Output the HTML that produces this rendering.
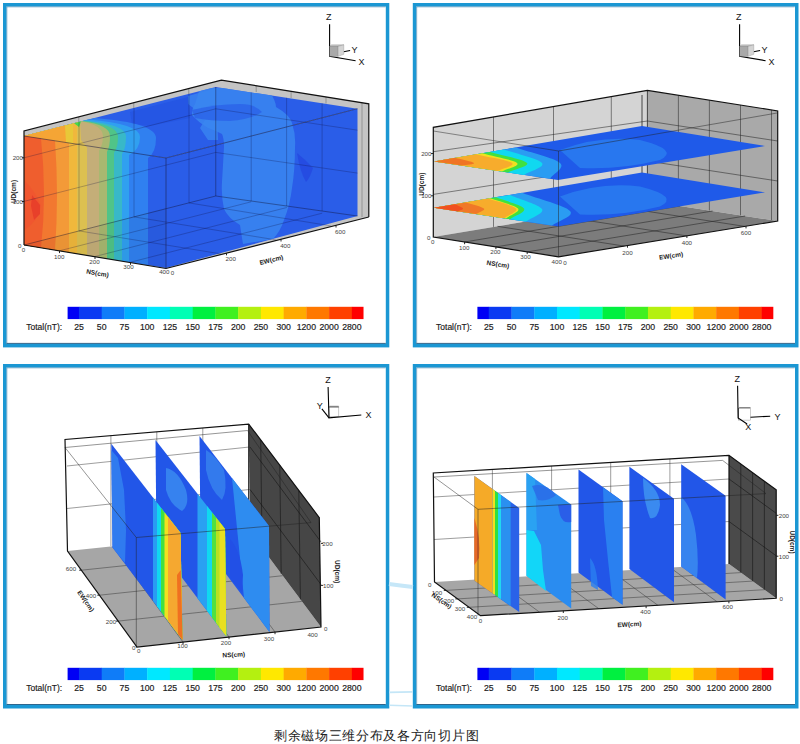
<!DOCTYPE html>
<html><head><meta charset="utf-8"><style>
html,body{margin:0;padding:0;background:#fff;width:800px;height:744px;overflow:hidden}
svg{position:absolute;left:0;top:0;display:block}
text{font-family:"Liberation Sans",sans-serif}
.cl{font-size:8.7px;fill:#1c1c1c;stroke:#1c1c1c;stroke-width:0.18px}
.tr{font-size:9px;fill:#111}
.tk{font-size:6.2px;fill:#444}
.at{font-size:6.5px;font-weight:bold;fill:#222}
.cap{position:absolute;left:274px;top:727.5px;white-space:nowrap;font-family:"Liberation Sans",sans-serif;font-size:13.4px;letter-spacing:0.68px;color:#222;line-height:16px}
</style></head><body>
<svg width="800" height="744" viewBox="0 0 800 744">
<rect x="4.75" y="4.75" width="382.8" height="340.9" fill="none" stroke="#1b97d3" stroke-width="3.5"/>
<path d="M6.9 343.5 V6.9 H385.40000000000003" fill="none" stroke="#0e5f92" stroke-width="0.7" opacity="0.6"/>
<path d="M6.5 343.4 H385.8" fill="none" stroke="#0b4a78" stroke-width="1" opacity="0.85"/>
<rect x="414.55" y="4.75" width="382.2" height="340.9" fill="none" stroke="#1b97d3" stroke-width="3.5"/>
<path d="M416.7 343.5 V6.9 H794.6" fill="none" stroke="#0e5f92" stroke-width="0.7" opacity="0.6"/>
<path d="M416.3 343.4 H795.0" fill="none" stroke="#0b4a78" stroke-width="1" opacity="0.85"/>
<rect x="4.75" y="365.75" width="382.8" height="341.0" fill="none" stroke="#1b97d3" stroke-width="3.5"/>
<path d="M6.9 704.6 V367.9 H385.40000000000003" fill="none" stroke="#0e5f92" stroke-width="0.7" opacity="0.6"/>
<path d="M6.5 704.5 H385.8" fill="none" stroke="#0b4a78" stroke-width="1" opacity="0.85"/>
<rect x="414.55" y="365.75" width="382.2" height="341.0" fill="none" stroke="#1b97d3" stroke-width="3.5"/>
<path d="M416.7 704.6 V367.9 H794.6" fill="none" stroke="#0e5f92" stroke-width="0.7" opacity="0.6"/>
<path d="M416.3 704.5 H795.0" fill="none" stroke="#0b4a78" stroke-width="1" opacity="0.85"/>
<polygon points="24,131 221.4,80.1 368.8,103.8 368.8,217 166,268.5 24,245" fill="#c4c4c4"/>
<path d="M78.75,117 V122 M133.75,103 V108 M188.75,88.5 V94 M256.2,85.8 V92 M291.1,91.4 V98 M326,97 V103.5 M362,102.5 V217" stroke="#555" stroke-width="0.6" opacity="0.7"/>
<polygon points="166,158 357.5,108.7 357.5,216 166,268" fill="#2a5de8"/>
<polygon points="24,136 166,158 357.5,108.7 215.75,87" fill="#2a5de8"/>
<polygon points="24,136 166,158 166,268 24,245" fill="#2a5ee8"/>
<polygon points="188,96 216,88 218,140 208,140 200,128 205,120 196,110 188,104" fill="#3a86f0" opacity="0.8"/>
<polygon points="130,112 188,97 190,118 150,126 132,124" fill="#1f4fe0" opacity="0.5"/>
<clipPath id="c1"><polygon points="24,136 215.75,87 357.5,108.7 357.5,216 166,268 24,245"/></clipPath>
<g clip-path="url(#c1)">
<path d="M200,88 L267,88 Q276,100 276,107 Q290,115 292,123 Q296,135 295,147 Q295,170 292,188 Q290,205 284,220 Q280,232 273,239 L243,244 Q241,232 240,225 Q228,218 224,209 Q221,195 222,182 Q223,165 224,147 Q224,138 222,134 Q214,130 208,128 Q198,122 192,115 Q192,108 195,104 Z" fill="#3a86f0" opacity="0.85"/>
<path d="M192,110 Q215,104 240,104 Q255,104 262,112 Q250,120 230,121 Q210,121 195,118 Z" fill="#2a62e8" opacity="0.8"/>
<path d="M297,153 Q306,160 313,168 Q310,178 306,182 Q300,172 297,153 Z" fill="#2448e0" opacity="0.8"/>
</g>
<path d="M95,117.9 Q156,122.9 156,138 Q156,152.9 148,157.9 L148,265.1 L24,245 L24,136 Z" fill="#3080f0"/>
<path d="M88,119.6 Q140,124.0 140,137 Q140,150.0 129,155.0 L129,262.0 L24,245 L24,136 Z" fill="#30a0f0"/>
<path d="M85,120.4 Q126,124.4 126,136.5 Q126,148.9 122,153.9 L122,260.9 L24,245 L24,136 Z" fill="#38b8c8"/>
<path d="M83,120.9 Q118,124.8 118,136.5 Q118,147.7 114,152.7 L114,259.6 L24,245 L24,136 Z" fill="#50c488"/>
<path d="M82,121.2 Q110,124.9 110,136 Q110,146.7 107,151.7 L107,258.4 L24,245 L24,136 Z" fill="#a8b870"/>
<path d="M81,121.4 Q103,125.1 103,136 Q103,145.4 99,150.4 L99,257.1 L24,245 L24,136 Z" fill="#c4ae78"/>
<path d="M80,121.7 L81,140 L87,147.6 L87,255.2 L24,245 L24,136 Z" fill="#dcc050"/>
<path d="M77,122.5 L77,253.6 L24,245 L24,136 Z" fill="#f0b83c"/>
<path d="M73,123.5 L73,143.5 L24,136 Z" fill="#e8c838"/>
<path d="M65,125.5 L66,142.4 L24,136 Z" fill="#f5a535"/>
<path d="M74,123.2 L81,121.4 L79,127 Z" fill="#48d848"/>
<path d="M24,136 L69,142.9 L69,252.3 L24,245 Z" fill="#f39a38"/>
<path d="M24,136 L55,140.7 Q59,195 55,250.0 L24,245 Z" fill="#f27830"/>
<path d="M24,136 L41,138.6 Q47,195 41,247.8 L24,245 Z" fill="#ef5e2e"/>
<path d="M24,180 Q36,192 41,206 Q38,222 24,230 Z" fill="#ef5530" opacity="0.9"/>
<polygon points="32,195 40,205 40,214 34,220 31,206" fill="#e8402a"/>
<polygon points="24,245 166,208 166,268" fill="#000" opacity="0.04"/>
<path d="M24,201.4 L215.75,152.4 L357.5,173.1 M24,157.8 L215.75,108.8 L357.5,130.2 M79,121.9 V230.9 M134,107.9 V216.9 M189,93.8 V202.8 M251.2,92.4 V201.0 M286.6,97.8 V206.0 M322.1,103.3 V211.0 M59.5,250.8 L251.2,201.8 M95.0,256.5 L286.8,207.5 M130.5,262.2 L322.2,213.2 M79.0,230.9 L221.0,253.9 M134.1,216.9 L276.1,239.9 M188.9,202.9 L330.9,225.9" fill="none" stroke="#101040" stroke-width="0.6" opacity="0.45"/>
<path d="M215.75,87 V196 L24,245 M215.75,196 L357.5,216" fill="none" stroke="#101030" stroke-width="0.7" opacity="0.6"/>
<g stroke="#1a1a40" stroke-width="0.7" fill="none" opacity="0.75"><path d="M24,136 L166,158 L357.5,108.7"/><path d="M166,158 V268"/></g>
<path d="M24,245 V131 L221.4,80.1 L368.8,103.8 V217" fill="none" stroke="#111" stroke-width="1.2"/>
<path d="M24,245 L166,268.5 L368.8,217" fill="none" stroke="#111" stroke-width="1.2"/>
<polygon points="433.3,127.3 647.4,90.4 647.4,201 433.3,237.1" fill="#d4d4d4"/>
<polygon points="647.4,90.4 777.7,110.9 777.7,221 647.4,201" fill="#a9a9a9"/>
<polygon points="433.3,237.1 647.4,201 777.7,221 558.5,256.8" fill="#7c7c7c"/>
<path d="M493.5,116.9 V226.9 M553.5,106.6 V216.8 M611.3,96.6 V207.1 M433.3,194.4 L647.4,161.0 L777.7,181.0 M433.3,151.7 L647.4,121.0 L777.7,141.0 M678.4,95.3 V205.8 M709.4,100.2 V210.5 M740.5,105.0 V215.3 M771.5,109.9 V220.0 M464.6,242.0 L680.0,206.0 M495.9,246.9 L712.5,211.0 M527.2,251.9 L745.1,216.0 M497.5,226.3 L624.3,246.1 M558.5,216.0 L686.7,235.9 M615.3,206.4 L744.8,226.4" fill="none" stroke="#222" stroke-width="0.7" opacity="0.75"/>
<path d="M647.4,90.4 V201 M642,95 V201" stroke="#222" stroke-width="0.8"/>
<polygon points="434,161.4 558,180 765,146 642,126" fill="#1f5ae9"/>
<path d="M560,150 Q600,135 640,140 Q680,150 660,160 Q620,170 580,168 Z" fill="#2a7ef0" opacity="0.8"/>
<path d="M434.0,161.4 L516.0,147.5 C530.7,152.7 554.3,157.8 560.0,163.0 C565.7,168.2 553.3,173.5 550.0,178.8 Z" fill="#2a9cf2" opacity="1"/>
<path d="M434.0,161.4 L504.0,149.5 C516.7,154.0 538.7,158.8 542.0,163.0 C545.3,167.2 530.0,170.9 524.0,174.9 Z" fill="#10d8f0" opacity="1"/>
<path d="M434.0,161.4 L490.0,151.9 C502.3,155.6 524.0,159.6 527.0,163.0 C530.0,166.4 514.3,169.3 508.0,172.5 Z" fill="#40e040" opacity="1"/>
<path d="M434.0,161.4 L482.0,153.2 C493.7,156.5 513.7,159.9 517.0,163.0 C520.3,166.1 507.0,168.7 502.0,171.6 Z" fill="#f0e020" opacity="1"/>
<path d="M434.0,161.4 L476.0,154.3 C488.0,157.2 508.3,160.2 512.0,163.0 C515.7,165.8 502.7,168.3 498.0,171.0 Z" fill="#f7ac2c" opacity="1"/>
<path d="M434.0,161.4 L455.0,157.8 C461.3,159.5 472.8,161.7 474.0,163.0 C475.2,164.3 466.0,164.7 462.0,165.6 Z" fill="#f07424" opacity="1"/>
<polygon points="434,207.8 558,226.4 765,192.4 642,172.4" fill="#1f5ae9"/>
<path d="M560,196.4 Q600,181.4 640,186.4 Q680,196.4 660,206.4 Q620,216.4 580,214.4 Z" fill="#2a7ef0" opacity="0.8"/>
<path d="M434.0,207.8 L522.0,192.8 C538.0,198.9 565.0,205.6 570.0,211.0 C575.0,216.4 558.0,220.7 552.0,225.5 Z" fill="#2a9cf2" opacity="1"/>
<path d="M434.0,207.8 L510.0,194.9 C520.7,199.6 539.3,204.6 542.0,209.0 C544.7,213.4 531.3,217.4 526.0,221.6 Z" fill="#10d8f0" opacity="1"/>
<path d="M434.0,207.8 L496.0,197.3 C505.3,201.0 521.7,204.8 524.0,208.5 C526.3,212.2 514.7,215.6 510.0,219.2 Z" fill="#40e040" opacity="1"/>
<path d="M434.0,207.8 L490.0,198.3 C499.3,201.7 515.3,205.1 518.0,208.5 C520.7,211.9 510.0,215.2 506.0,218.6 Z" fill="#f0e020" opacity="1"/>
<path d="M434.0,207.8 L488.0,198.6 C497.3,201.9 513.3,205.2 516.0,208.5 C518.7,211.8 508.0,215.0 504.0,218.3 Z" fill="#f7ac2c" opacity="1"/>
<path d="M434.0,207.8 L466.0,202.4 C472.0,204.4 482.3,206.6 484.0,208.5 C485.7,210.4 478.7,212.2 476.0,214.1 Z" fill="#f07828" opacity="1"/>
<path d="M434.0,207.8 L455.0,204.2 C457.7,205.6 462.5,207.3 463.0,208.5 C463.5,209.7 459.7,210.4 458.0,211.4 Z" fill="#f05020" opacity="1"/>
<path d="M433.3,131 L558.5,151 L777,113 M558.5,151 V256.8" fill="none" stroke="#222" stroke-width="0.6" opacity="0.8"/>
<path d="M433.3,237.1 V127.3 L647.4,90.4 L777.7,110.9 V221 L558.5,256.8 Z" fill="none" stroke="#111" stroke-width="1.2"/>
<polygon points="67.5,551 250,532 321,627 137,647" fill="#a6a6a6"/>
<polygon points="248.7,424.1 319.3,517.6 321,627 250,532" fill="#464646"/>
<path d="M67,508.5 L249.5,489.5 M67,466.0 L249.5,447.0 M110.9,435.6 V546.2 M156.8,431.8 V541.5 M202.8,428.0 V536.8" fill="none" stroke="#333" stroke-width="0.6" opacity="0.8"/>
<path d="M260.7,440.0 L262.1,548.1 M279.8,465.2 L281.2,573.8 M298.8,490.5 L300.4,599.5 M250,489.5 L321,584.5 M250,447.0 L321,542.0" fill="none" stroke="#111" stroke-width="0.6" opacity="0.9"/>
<path d="M113.1,546.2 L183.0,642.0 M158.8,541.5 L229.0,637.0 M204.4,536.8 L275.0,632.0 M118.2,621.1 L301.8,601.4 M99.5,595.2 L282.7,575.7 M81.4,570.2 L264.2,551.0" fill="none" stroke="#333" stroke-width="0.6" opacity="0.8"/>
<path d="M248.7,424.1 V532" stroke="#111" stroke-width="1"/>
<polygon points="199.5,436.0 269.0,526.0 269.5,632.0 200.5,540.0" fill="#2256e8" />
<path d="M206,450 Q215,455 224,470 Q228,490 222,500 Q210,490 206,470 Z" fill="#3a8af0" opacity="0.7"/>
<polygon points="232,478.1 269,526 269.5,632 244,598.0" fill="#2e8cf0"/>
<path d="M230,539 Q240,550 243,575 L242,592 L230,578 Z" fill="#2250e6"/>
<polygon points="155.5,440.0 225.0,529.0 226.3,636.3 156.5,544.0" fill="#2256e8" />
<path d="M166,468 Q178,470 186,490 Q190,505 182,511 Q170,505 166,490 Z" fill="#3a8af0" opacity="0.85"/>
<polygon points="197.5,493.8 225,529 226.3,636.3 197.5,598.2" fill="#2aa0f2"/>
<polygon points="207,505.9 225,529 226.3,636.3 207,610.8" fill="#10d8f0"/>
<polygon points="212,512.4 225,529 226.3,636.3 212,617.4" fill="#50e040"/>
<polygon points="216,517.5 225,529 226.3,636.3 216,622.7" fill="#b8e020"/>
<polygon points="219.5,522.0 225,529 226.3,636.3 219.5,627.3" fill="#e8e020"/>
<polygon points="111.3,443.8 180.5,533.0 182.5,640.0 112.5,547.5" fill="#2256e8" />
<polygon points="111.3,450 118,458 124,490 126,530 125,563 112.5,547.5" fill="#3280f0" opacity="0.9"/>
<polygon points="153,497.6 180.5,533 182.5,640 153,601.0" fill="#2a9cf2"/>
<polygon points="157,502.7 180.5,533 182.5,640 157,606.3" fill="#10d8f0"/>
<polygon points="161,507.9 180.5,533 182.5,640 161,611.6" fill="#40e040"/>
<polygon points="164.5,512.4 180.5,533 182.5,640 164.5,616.2" fill="#f0e020"/>
<polygon points="168,516.9 180.5,533 182.5,640 168,620.8" fill="#f5a830"/>
<path d="M177,575 L180.8,570 L182.5,640 L178,634 Z" fill="#f07020"/>
<path d="M65,447.5 L136.3,537.5 L311,522.6 M136.3,537.5 V648 M65,447.5 L247.5,430.5 L311,522.6" fill="none" stroke="#222" stroke-width="0.6" opacity="0.8"/>
<path d="M67.5,551 L65,439.5 L248.7,424.1 L319.3,517.6 L321,627 L137,647 Z" fill="none" stroke="#111" stroke-width="1.2"/>
<polygon points="434.5,582 729,564 776.2,598.3 480.5,615.7" fill="#a6a6a6"/>
<polygon points="729,455.3 776.2,489.8 776.2,598.3 729,564" fill="#4a4a4a"/>
<path d="M434,539.5 L729,521.5 M434,497.0 L729,479.0 M492.4,469.5 V578.4 M551.6,465.9 V574.8 M610.7,462.4 V571.2 M669.9,458.8 V567.6" fill="none" stroke="#333" stroke-width="0.6" opacity="0.8"/>
<path d="M740.8,463.9 L740.8,572.6 M752.6,472.6 L752.6,581.1 M764.4,481.2 L764.4,589.7 M729,521.5 L776.2,555.8 M729,479.0 L776.2,513.3" fill="none" stroke="#111" stroke-width="0.6" opacity="0.9"/>
<path d="M446.0,590.4 L740.8,572.6 M457.5,598.9 L752.6,581.1 M469.0,607.3 L764.4,589.7 M493.4,578.4 L539.6,612.2 M552.3,574.8 L598.8,608.7 M611.2,571.2 L657.9,605.3 M670.1,567.6 L717.1,601.8" fill="none" stroke="#333" stroke-width="0.6" opacity="0.8"/>
<polygon points="474.4,476.1 519.2,508.1 519.2,612.1 474.4,580.7" fill="#2a62e8" />
<polygon points="474.4,476.1 492.6,489.1 492.6,593.5 474.4,580.7" fill="#f5aa28" />
<polygon points="492.6,489.1 495,490.8 495,595.1 492.6,593.5" fill="#f0e020" />
<polygon points="495,490.8 498,493.0 498,597.2 495,595.1" fill="#30e040" />
<polygon points="498,493.0 501,495.1 501,599.3 498,597.2" fill="#20d8f0" />
<polygon points="501,495.1 510.7,502.0 510.7,606.1 501,599.3" fill="#2a90f0" />
<path d="M474.4,518 Q481,538 479,558 L474.4,565 Z" fill="#e86828"/>
<polygon points="526.5,473.0 571.2,504.4 571.2,608.5 526.5,575.8" fill="#2a8cf0" />
<polygon points="526.5,473 535,479 537,530 526.5,530" fill="#2aa2f2"/>
<path d="M532,486 Q545,482 556,495 Q548,502 538,500 Z" fill="#2a6ee8" opacity="0.9"/>
<polygon points="526.5,530 534,531 541,545 543,570 546,591 526.5,575.8" fill="#12d6f8"/>
<path d="M558,505 L571.2,504.4 V522 Q563,524 560,515 Z" fill="#2a5ee8"/>
<polygon points="578.5,469.4 622.5,501.3 622.5,604.7 578.5,572.5" fill="#2256e8" />
<polygon points="603,487.2 622.5,501.3 622.5,604.7 612,597 608,560 604,520" fill="#2a80f0"/>
<path d="M590,558 Q597,565 598,590 L591,586 Z" fill="#2a80f0" opacity="0.8"/>
<polygon points="629.4,466.8 674.0,498.7 674.0,602.2 629.4,569.0" fill="#2256e8" />
<path d="M643,478 Q660,490 660,505 Q658,520 650,518 Q643,500 643,478 Z" fill="#3a8af0"/>
<polygon points="681.2,464.3 725.6,495.7 725.6,599.6 681.2,566.4" fill="#2256e8" />
<path d="M681.2,497 Q692,506 696,535 Q699,560 697,578 L681.2,566.4 Z" fill="#3a8af0" opacity="0.9"/>
<path d="M434,477 L478,509.3 L766,493.6 M478,509.3 V615.7 M434,477 L722.6,460.4 L766,493.6" fill="none" stroke="#222" stroke-width="0.6" opacity="0.8"/>
<path d="M434.5,582 L433.3,473 L729,455.3 L776.2,489.8 V598.3 L480.5,615.7 Z M729,455.3 V564" fill="none" stroke="#111" stroke-width="1.2"/>
<text x="17.8" y="157.8" text-anchor="middle" dominant-baseline="central" class="tk">200</text>
<text x="17.8" y="201.5" text-anchor="middle" dominant-baseline="central" class="tk">100</text>
<text x="19.8" y="245" text-anchor="middle" dominant-baseline="central" class="tk">0</text>
<text x="13.4" y="191.5" text-anchor="middle" dominant-baseline="central" class="at" transform="rotate(-90 13.4 191.5)">UD(cm)</text>
<text x="23.6" y="249" text-anchor="middle" dominant-baseline="central" class="tk">0</text>
<text x="59.2" y="256" text-anchor="middle" dominant-baseline="central" class="tk">100</text>
<text x="94.5" y="261.8" text-anchor="middle" dominant-baseline="central" class="tk">200</text>
<text x="128.5" y="266.3" text-anchor="middle" dominant-baseline="central" class="tk">300</text>
<text x="164.3" y="271.5" text-anchor="middle" dominant-baseline="central" class="tk">400</text>
<text x="97.6" y="273" text-anchor="middle" dominant-baseline="central" class="at" transform="rotate(10 97.6 273)">NS(cm)</text>
<text x="172.5" y="272.2" text-anchor="middle" dominant-baseline="central" class="tk">0</text>
<text x="230.7" y="258" text-anchor="middle" dominant-baseline="central" class="tk">200</text>
<text x="285.3" y="245" text-anchor="middle" dominant-baseline="central" class="tk">400</text>
<text x="340.2" y="231" text-anchor="middle" dominant-baseline="central" class="tk">600</text>
<text x="271.3" y="259.7" text-anchor="middle" dominant-baseline="central" class="at" transform="rotate(-14 271.3 259.7)">EW(cm)</text>
<text x="426.3" y="153.5" text-anchor="middle" dominant-baseline="central" class="tk">200</text>
<text x="426.3" y="195.8" text-anchor="middle" dominant-baseline="central" class="tk">100</text>
<text x="428.8" y="237.3" text-anchor="middle" dominant-baseline="central" class="tk">0</text>
<text x="421.2" y="184.2" text-anchor="middle" dominant-baseline="central" class="at" transform="rotate(-90 421.2 184.2)">UD(cm)</text>
<text x="432.8" y="241.6" text-anchor="middle" dominant-baseline="central" class="tk">0</text>
<text x="464.2" y="247.3" text-anchor="middle" dominant-baseline="central" class="tk">100</text>
<text x="495.4" y="251.6" text-anchor="middle" dominant-baseline="central" class="tk">200</text>
<text x="525.5" y="256.2" text-anchor="middle" dominant-baseline="central" class="tk">300</text>
<text x="556.7" y="261.2" text-anchor="middle" dominant-baseline="central" class="tk">400</text>
<text x="498" y="264" text-anchor="middle" dominant-baseline="central" class="at" transform="rotate(9 498 264)">NS(cm)</text>
<text x="565" y="262.8" text-anchor="middle" dominant-baseline="central" class="tk">0</text>
<text x="627.5" y="252.5" text-anchor="middle" dominant-baseline="central" class="tk">200</text>
<text x="686.9" y="242.5" text-anchor="middle" dominant-baseline="central" class="tk">400</text>
<text x="746" y="232.5" text-anchor="middle" dominant-baseline="central" class="tk">600</text>
<text x="671" y="255.5" text-anchor="middle" dominant-baseline="central" class="at" transform="rotate(-9 671 255.5)">EW(cm)</text>
<text x="71" y="568.75" text-anchor="middle" dominant-baseline="central" class="tk">600</text>
<text x="91" y="595" text-anchor="middle" dominant-baseline="central" class="tk">400</text>
<text x="111" y="621" text-anchor="middle" dominant-baseline="central" class="tk">200</text>
<text x="133.75" y="647.5" text-anchor="middle" dominant-baseline="central" class="tk">0</text>
<text x="86" y="601" text-anchor="middle" dominant-baseline="central" class="at" transform="rotate(55 86 601)">EW(cm)</text>
<text x="138.75" y="650.5" text-anchor="middle" dominant-baseline="central" class="tk">0</text>
<text x="182.5" y="645.5" text-anchor="middle" dominant-baseline="central" class="tk">100</text>
<text x="226" y="642.2" text-anchor="middle" dominant-baseline="central" class="tk">200</text>
<text x="269" y="638.5" text-anchor="middle" dominant-baseline="central" class="tk">300</text>
<text x="312.6" y="634" text-anchor="middle" dominant-baseline="central" class="tk">400</text>
<text x="233.75" y="654.5" text-anchor="middle" dominant-baseline="central" class="at" transform="rotate(-3 233.75 654.5)">NS(cm)</text>
<text x="327.5" y="543.4" text-anchor="middle" dominant-baseline="central" class="tk">200</text>
<text x="328.2" y="585.4" text-anchor="middle" dominant-baseline="central" class="tk">100</text>
<text x="325.7" y="628" text-anchor="middle" dominant-baseline="central" class="tk">0</text>
<text x="337.5" y="571.6" text-anchor="middle" dominant-baseline="central" class="at" transform="rotate(90 337.5 571.6)">UD(cm)</text>
<text x="429.7" y="584.3" text-anchor="middle" dominant-baseline="central" class="tk">0</text>
<text x="437" y="592.75" text-anchor="middle" dominant-baseline="central" class="tk">100</text>
<text x="449" y="600" text-anchor="middle" dominant-baseline="central" class="tk">200</text>
<text x="460" y="608.5" text-anchor="middle" dominant-baseline="central" class="tk">300</text>
<text x="472" y="616.5" text-anchor="middle" dominant-baseline="central" class="tk">400</text>
<text x="441.8" y="600.5" text-anchor="middle" dominant-baseline="central" class="at" transform="rotate(35 441.8 600.5)">NS(cm)</text>
<text x="480.5" y="620.6" text-anchor="middle" dominant-baseline="central" class="tk">0</text>
<text x="562.75" y="617" text-anchor="middle" dominant-baseline="central" class="tk">200</text>
<text x="645.5" y="611" text-anchor="middle" dominant-baseline="central" class="tk">400</text>
<text x="727.7" y="606" text-anchor="middle" dominant-baseline="central" class="tk">600</text>
<text x="629.4" y="624" text-anchor="middle" dominant-baseline="central" class="at" transform="rotate(-3 629.4 624)">EW(cm)</text>
<text x="783.9" y="515.3" text-anchor="middle" dominant-baseline="central" class="tk">200</text>
<text x="783.9" y="556.2" text-anchor="middle" dominant-baseline="central" class="tk">100</text>
<text x="781.3" y="598.3" text-anchor="middle" dominant-baseline="central" class="tk">0</text>
<text x="792" y="542" text-anchor="middle" dominant-baseline="central" class="at" transform="rotate(90 792 542)">UD(cm)</text>
<path d="M59.5,250.9 l0,2.2 M95.0,256.8 l0,2.2 M130.5,262.6 l0,2.2 M226.5,253.1 l0,2.2 M281.0,239.3 l0,2.2 M336.0,225.3 l0,2.2 M24.0,201.5 l-2.2,0 M24.0,157.8 l-2.2,0 M464.6,242.0 l0,2.2 M495.9,246.9 l0,2.2 M527.2,251.9 l0,2.2 M627.5,245.5 l0,2.2 M686.9,235.8 l0,2.2 M746.0,226.2 l0,2.2 M433.3,195.8 l-2.2,0 M433.3,153.5 l-2.2,0 M183.0,642.0 l0,2.2 M229.0,637.0 l0,2.2 M275.0,632.0 l0,2.2 M118.2,621.1 l-2.2,0 M99.5,595.2 l-2.2,0 M81.4,570.2 l-2.2,0 M321.0,585.4 l2.2,0 M321.0,543.4 l2.2,0 M446.0,590.4 l-2.2,0 M457.5,598.9 l-2.2,0 M469.0,607.3 l-2.2,0 M563.3,610.8 l0,2.2 M646.1,606.0 l0,2.2 M728.9,601.1 l0,2.2 M776.2,556.2 l2.2,0 M776.2,515.3 l2.2,0" stroke="#111" stroke-width="0.9" fill="none"/>
<path d="M389,584 Q400,585.5 413,587" stroke="#c6e7f8" stroke-width="4" fill="none"/>
<path d="M389,692.3 Q400,692 413,691.8" stroke="#c4e6f7" stroke-width="1.8" fill="none"/><path d="M389,705.3 Q400,705.6 413,706" stroke="#c4e6f7" stroke-width="1.4" fill="none"/>
<rect x="67.60" y="306.8" width="11.67" height="12.3" fill="#0000f5"/>
<rect x="78.97" y="306.8" width="23.04" height="12.3" fill="#0a3af2"/>
<rect x="101.71" y="306.8" width="23.04" height="12.3" fill="#0f7cf8"/>
<rect x="124.45" y="306.8" width="23.04" height="12.3" fill="#00b0ff"/>
<rect x="147.19" y="306.8" width="23.04" height="12.3" fill="#00e8ff"/>
<rect x="169.93" y="306.8" width="23.04" height="12.3" fill="#00ffb4"/>
<rect x="192.67" y="306.8" width="23.04" height="12.3" fill="#00f040"/>
<rect x="215.41" y="306.8" width="23.04" height="12.3" fill="#40f020"/>
<rect x="238.15" y="306.8" width="23.04" height="12.3" fill="#b4f010"/>
<rect x="260.89" y="306.8" width="23.04" height="12.3" fill="#ffe800"/>
<rect x="283.63" y="306.8" width="23.04" height="12.3" fill="#ffaa00"/>
<rect x="306.37" y="306.8" width="23.04" height="12.3" fill="#ff7800"/>
<rect x="329.11" y="306.8" width="23.04" height="12.3" fill="#ff4000"/>
<rect x="351.85" y="306.8" width="11.67" height="12.3" fill="#ff0000"/>
<text x="78.97" y="330" text-anchor="middle" class="cl">25</text>
<text x="101.71" y="330" text-anchor="middle" class="cl">50</text>
<text x="124.45" y="330" text-anchor="middle" class="cl">75</text>
<text x="147.19" y="330" text-anchor="middle" class="cl">100</text>
<text x="169.93" y="330" text-anchor="middle" class="cl">125</text>
<text x="192.67" y="330" text-anchor="middle" class="cl">150</text>
<text x="215.41" y="330" text-anchor="middle" class="cl">175</text>
<text x="238.15" y="330" text-anchor="middle" class="cl">200</text>
<text x="260.89" y="330" text-anchor="middle" class="cl">250</text>
<text x="283.63" y="330" text-anchor="middle" class="cl">300</text>
<text x="306.37" y="330" text-anchor="middle" class="cl">1200</text>
<text x="329.11" y="330" text-anchor="middle" class="cl">2000</text>
<text x="351.85" y="330" text-anchor="middle" class="cl">2800</text>
<text x="26.3" y="330" class="cl" textLength="35.8" lengthAdjust="spacingAndGlyphs">Total(nT):</text>
<rect x="477.40" y="306.8" width="11.67" height="12.3" fill="#0000f5"/>
<rect x="488.77" y="306.8" width="23.04" height="12.3" fill="#0a3af2"/>
<rect x="511.51" y="306.8" width="23.04" height="12.3" fill="#0f7cf8"/>
<rect x="534.25" y="306.8" width="23.04" height="12.3" fill="#00b0ff"/>
<rect x="556.99" y="306.8" width="23.04" height="12.3" fill="#00e8ff"/>
<rect x="579.73" y="306.8" width="23.04" height="12.3" fill="#00ffb4"/>
<rect x="602.47" y="306.8" width="23.04" height="12.3" fill="#00f040"/>
<rect x="625.21" y="306.8" width="23.04" height="12.3" fill="#40f020"/>
<rect x="647.95" y="306.8" width="23.04" height="12.3" fill="#b4f010"/>
<rect x="670.69" y="306.8" width="23.04" height="12.3" fill="#ffe800"/>
<rect x="693.43" y="306.8" width="23.04" height="12.3" fill="#ffaa00"/>
<rect x="716.17" y="306.8" width="23.04" height="12.3" fill="#ff7800"/>
<rect x="738.91" y="306.8" width="23.04" height="12.3" fill="#ff4000"/>
<rect x="761.65" y="306.8" width="11.67" height="12.3" fill="#ff0000"/>
<text x="488.77" y="330" text-anchor="middle" class="cl">25</text>
<text x="511.51" y="330" text-anchor="middle" class="cl">50</text>
<text x="534.25" y="330" text-anchor="middle" class="cl">75</text>
<text x="556.99" y="330" text-anchor="middle" class="cl">100</text>
<text x="579.73" y="330" text-anchor="middle" class="cl">125</text>
<text x="602.47" y="330" text-anchor="middle" class="cl">150</text>
<text x="625.21" y="330" text-anchor="middle" class="cl">175</text>
<text x="647.95" y="330" text-anchor="middle" class="cl">200</text>
<text x="670.69" y="330" text-anchor="middle" class="cl">250</text>
<text x="693.43" y="330" text-anchor="middle" class="cl">300</text>
<text x="716.17" y="330" text-anchor="middle" class="cl">1200</text>
<text x="738.91" y="330" text-anchor="middle" class="cl">2000</text>
<text x="761.65" y="330" text-anchor="middle" class="cl">2800</text>
<text x="436.1" y="330" class="cl" textLength="35.8" lengthAdjust="spacingAndGlyphs">Total(nT):</text>
<rect x="67.60" y="667.8" width="11.67" height="12.3" fill="#0000f5"/>
<rect x="78.97" y="667.8" width="23.04" height="12.3" fill="#0a3af2"/>
<rect x="101.71" y="667.8" width="23.04" height="12.3" fill="#0f7cf8"/>
<rect x="124.45" y="667.8" width="23.04" height="12.3" fill="#00b0ff"/>
<rect x="147.19" y="667.8" width="23.04" height="12.3" fill="#00e8ff"/>
<rect x="169.93" y="667.8" width="23.04" height="12.3" fill="#00ffb4"/>
<rect x="192.67" y="667.8" width="23.04" height="12.3" fill="#00f040"/>
<rect x="215.41" y="667.8" width="23.04" height="12.3" fill="#40f020"/>
<rect x="238.15" y="667.8" width="23.04" height="12.3" fill="#b4f010"/>
<rect x="260.89" y="667.8" width="23.04" height="12.3" fill="#ffe800"/>
<rect x="283.63" y="667.8" width="23.04" height="12.3" fill="#ffaa00"/>
<rect x="306.37" y="667.8" width="23.04" height="12.3" fill="#ff7800"/>
<rect x="329.11" y="667.8" width="23.04" height="12.3" fill="#ff4000"/>
<rect x="351.85" y="667.8" width="11.67" height="12.3" fill="#ff0000"/>
<text x="78.97" y="691" text-anchor="middle" class="cl">25</text>
<text x="101.71" y="691" text-anchor="middle" class="cl">50</text>
<text x="124.45" y="691" text-anchor="middle" class="cl">75</text>
<text x="147.19" y="691" text-anchor="middle" class="cl">100</text>
<text x="169.93" y="691" text-anchor="middle" class="cl">125</text>
<text x="192.67" y="691" text-anchor="middle" class="cl">150</text>
<text x="215.41" y="691" text-anchor="middle" class="cl">175</text>
<text x="238.15" y="691" text-anchor="middle" class="cl">200</text>
<text x="260.89" y="691" text-anchor="middle" class="cl">250</text>
<text x="283.63" y="691" text-anchor="middle" class="cl">300</text>
<text x="306.37" y="691" text-anchor="middle" class="cl">1200</text>
<text x="329.11" y="691" text-anchor="middle" class="cl">2000</text>
<text x="351.85" y="691" text-anchor="middle" class="cl">2800</text>
<text x="26.3" y="691" class="cl" textLength="35.8" lengthAdjust="spacingAndGlyphs">Total(nT):</text>
<rect x="477.40" y="667.8" width="11.67" height="12.3" fill="#0000f5"/>
<rect x="488.77" y="667.8" width="23.04" height="12.3" fill="#0a3af2"/>
<rect x="511.51" y="667.8" width="23.04" height="12.3" fill="#0f7cf8"/>
<rect x="534.25" y="667.8" width="23.04" height="12.3" fill="#00b0ff"/>
<rect x="556.99" y="667.8" width="23.04" height="12.3" fill="#00e8ff"/>
<rect x="579.73" y="667.8" width="23.04" height="12.3" fill="#00ffb4"/>
<rect x="602.47" y="667.8" width="23.04" height="12.3" fill="#00f040"/>
<rect x="625.21" y="667.8" width="23.04" height="12.3" fill="#40f020"/>
<rect x="647.95" y="667.8" width="23.04" height="12.3" fill="#b4f010"/>
<rect x="670.69" y="667.8" width="23.04" height="12.3" fill="#ffe800"/>
<rect x="693.43" y="667.8" width="23.04" height="12.3" fill="#ffaa00"/>
<rect x="716.17" y="667.8" width="23.04" height="12.3" fill="#ff7800"/>
<rect x="738.91" y="667.8" width="23.04" height="12.3" fill="#ff4000"/>
<rect x="761.65" y="667.8" width="11.67" height="12.3" fill="#ff0000"/>
<text x="488.77" y="691" text-anchor="middle" class="cl">25</text>
<text x="511.51" y="691" text-anchor="middle" class="cl">50</text>
<text x="534.25" y="691" text-anchor="middle" class="cl">75</text>
<text x="556.99" y="691" text-anchor="middle" class="cl">100</text>
<text x="579.73" y="691" text-anchor="middle" class="cl">125</text>
<text x="602.47" y="691" text-anchor="middle" class="cl">150</text>
<text x="625.21" y="691" text-anchor="middle" class="cl">175</text>
<text x="647.95" y="691" text-anchor="middle" class="cl">200</text>
<text x="670.69" y="691" text-anchor="middle" class="cl">250</text>
<text x="693.43" y="691" text-anchor="middle" class="cl">300</text>
<text x="716.17" y="691" text-anchor="middle" class="cl">1200</text>
<text x="738.91" y="691" text-anchor="middle" class="cl">2000</text>
<text x="761.65" y="691" text-anchor="middle" class="cl">2800</text>
<text x="436.1" y="691" class="cl" textLength="35.8" lengthAdjust="spacingAndGlyphs">Total(nT):</text>
<path d="M329.6 24.299999999999997 V56.3 L355.6 60.699999999999996" fill="none" stroke="#000" stroke-width="1.1"/>
<path d="M343.6 51.8 L350.1 50.5" stroke="#000" stroke-width="1.1"/>
<path d="M329.6 46.3 L331.6 44.8 H343.8 L341.90000000000003 46.3 Z" fill="#c8c8c8" stroke="#777" stroke-width="0.3"/>
<rect x="329.6" y="46.3" width="8.5" height="10" fill="#a9a9a9" stroke="#666" stroke-width="0.3"/>
<path d="M338.1 46.3 L343.8 44.8 V54.3 L338.1 56.3 Z" fill="#d4d4d4" stroke="#777" stroke-width="0.3"/>
<text x="328.8" y="19.799999999999997" text-anchor="middle" class="tr">Z</text>
<text x="354.40000000000003" y="52.9" text-anchor="middle" class="tr">Y</text>
<text x="361.40000000000003" y="65.1" text-anchor="middle" class="tr">X</text>
<path d="M739.6 24.299999999999997 V56.3 L765.6 60.699999999999996" fill="none" stroke="#000" stroke-width="1.1"/>
<path d="M753.6 51.8 L760.1 50.5" stroke="#000" stroke-width="1.1"/>
<path d="M739.6 46.3 L741.6 44.8 H753.8000000000001 L751.9 46.3 Z" fill="#c8c8c8" stroke="#777" stroke-width="0.3"/>
<rect x="739.6" y="46.3" width="8.5" height="10" fill="#a9a9a9" stroke="#666" stroke-width="0.3"/>
<path d="M748.1 46.3 L753.8000000000001 44.8 V54.3 L748.1 56.3 Z" fill="#d4d4d4" stroke="#777" stroke-width="0.3"/>
<text x="738.8000000000001" y="19.799999999999997" text-anchor="middle" class="tr">Z</text>
<text x="764.4" y="52.9" text-anchor="middle" class="tr">Y</text>
<text x="771.4" y="65.1" text-anchor="middle" class="tr">X</text>
<rect x="329" y="407.2" width="9.8" height="9.5" fill="#fff" stroke="#999" stroke-width="0.5"/>
<path d="M328 407.2 L330 405.9 H338.5 L338.8 407.2 Z" fill="#888" stroke="#777" stroke-width="0.3"/>
<path d="M328.1 386.9 L329 417.9 L361.3 415.0" fill="none" stroke="#000" stroke-width="1.1"/>
<path d="M329 417.9 L321.9 408.9" stroke="#000" stroke-width="1.1"/>
<text x="327.9" y="383.0" text-anchor="middle" class="tr">Z</text>
<text x="319.7" y="409.29999999999995" text-anchor="middle" class="tr">Y</text>
<text x="368.6" y="418.29999999999995" text-anchor="middle" class="tr">X</text>
<rect x="738.7" y="408.29999999999995" width="11.8" height="11.8" fill="#fff" stroke="#999" stroke-width="0.5"/>
<path d="M738.1 408.29999999999995 L739.6 406.9 H750.5 V408.29999999999995 Z" fill="#888"/>
<path d="M738.1 408.29999999999995 L738.7 408.29999999999995 V420.09999999999997 L738.1 417.9 Z" fill="#444"/>
<path d="M737.6 385.79999999999995 L738.1 417.9 L747.1 424.0" fill="none" stroke="#000" stroke-width="1.1"/>
<path d="M750.5 417.29999999999995 L770.2 416.2" stroke="#000" stroke-width="1.1"/>
<text x="737.3000000000001" y="381.9" text-anchor="middle" class="tr">Z</text>
<text x="777.5" y="419.5" text-anchor="middle" class="tr">Y</text>
<text x="748.2" y="429.7" text-anchor="middle" class="tr">X</text>
</svg>
<div class="cap">剩余磁场三维分布及各方向切片图</div>
</body></html>
